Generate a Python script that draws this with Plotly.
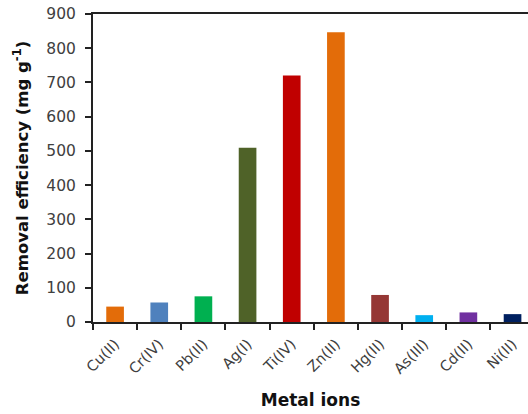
import plotly.graph_objects as go

# Metal ions and their removal capacities (mg g^-1)
ions = ["Cu(II)", "Cr(IV)", "Pb(II)", "Ag(I)", "Ti(IV)", "Zn(II)",
        "Hg(II)", "As(III)", "Cd(II)", "Ni(II)"]
capacity = [45, 57, 75, 509, 720, 847, 79, 20, 28, 23]
bar_colors = ["#E36C09", "#4F81BD", "#00B050", "#4F6228", "#C00000",
              "#E36C09", "#953735", "#00B0F0", "#7030A0", "#002060"]

y_ticks = [0, 100, 200, 300, 400, 500, 600, 700, 800, 900]

fig = go.Figure(
    go.Bar(
        x=ions,
        y=capacity,
        marker=dict(color=bar_colors, line=dict(width=0)),
        width=0.4,
    )
)

font_family = "DejaVu Sans, Verdana, sans-serif"

fig.update_layout(
    width=528,
    height=414,
    margin=dict(l=93, r=0, t=14, b=92),
    paper_bgcolor="white",
    plot_bgcolor="white",
    showlegend=False,
    font=dict(family=font_family, color="#404040", size=14),
    bargap=0.6,
)

fig.update_xaxes(
    type="category",
    range=[-0.5, 9.35],
    showline=True,
    linecolor="#222222",
    linewidth=2,
    mirror=True,
    ticks="outside",
    tickson="boundaries",
    ticklen=6,
    tickwidth=2,
    tickcolor="#222222",
    tickangle=-45,
    ticklabelstandoff=6,
    tickfont=dict(size=14.5, color="#404040"),
    showgrid=False,
    title=dict(text="<b>Metal ions</b>", font=dict(size=17, color="#111111"),
               standoff=18),
)

fig.update_yaxes(
    range=[0, 900],
    tickvals=y_ticks,
    showline=True,
    linecolor="#222222",
    linewidth=2,
    ticks="outside",
    ticklen=6,
    tickwidth=2,
    tickcolor="#222222",
    ticklabelstandoff=6,
    tickfont=dict(size=15.5, color="#404040"),
    showgrid=False,
    zeroline=False,
    title=dict(text="<b>Removal efficiency (mg g<sup>-1</sup>)</b>",
               font=dict(size=16.5, color="#111111"), standoff=14),
)

fig.write_html("out.html")
